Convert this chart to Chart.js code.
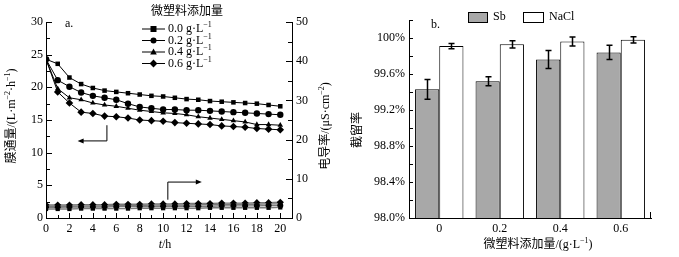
<!DOCTYPE html>
<html>
<head>
<meta charset="utf-8">
<script src="https://cdn.jsdelivr.net/npm/chart.js@4.4.0/dist/chart.umd.min.js"></script>
<style>
html, body { margin: 0; padding: 0; background: #fff; }
#wrap { position: relative; width: 679px; height: 257px; }
#fluxChart { position: absolute; left: 0; top: 0; }
#rejChart { position: absolute; left: 340px; top: 0; }
</style>
</head>
<body>
<div id="wrap">
  <canvas id="fluxChart" width="340" height="257"></canvas>
  <canvas id="rejChart" width="339" height="257"></canvas>
</div>
<script>
// --- data ---
const hours = [0, 1, 2, 3, 4, 5, 6, 7, 8, 9, 10, 11, 12, 13, 14, 15, 16, 17, 18, 19, 20];

// membrane flux, L/(m2*h)
const flux00 = [24.3, 23.6, 21.5, 20.5, 19.9, 19.5, 19.3, 19.1, 18.9, 18.7, 18.6, 18.4, 18.2, 18.1, 17.9, 17.8, 17.7, 17.6, 17.5, 17.3, 17.1];
const flux02 = [24.3, 21.1, 20.1, 19.2, 18.7, 18.4, 18.1, 17.5, 17.0, 16.8, 16.6, 16.6, 16.5, 16.5, 16.4, 16.3, 16.2, 16.1, 16.0, 15.9, 15.8];
const flux04 = [24.3, 19.8, 18.4, 18.1, 17.6, 17.3, 17.1, 16.8, 16.5, 16.3, 16.1, 16.0, 15.8, 15.5, 15.3, 15.1, 14.9, 14.7, 14.3, 14.3, 14.2];
const flux06 = [24.3, 19.3, 17.6, 16.2, 16.0, 15.6, 15.5, 15.3, 15.0, 14.9, 14.8, 14.6, 14.5, 14.4, 14.3, 14.1, 14.0, 13.9, 13.7, 13.6, 13.5];

// conductivity, uS/cm
const cond00 = [2.3, 2.3, 2.3, 2.4, 2.4, 2.4, 2.4, 2.4, 2.5, 2.5, 2.5, 2.5, 2.5, 2.5, 2.6, 2.6, 2.6, 2.6, 2.6, 2.6, 2.7];
const cond02 = [2.7, 2.7, 2.8, 2.8, 2.8, 2.8, 2.9, 2.9, 2.9, 2.9, 3.0, 3.0, 3.0, 3.0, 3.0, 3.1, 3.1, 3.1, 3.1, 3.2, 3.2];
const cond04 = [3.0, 3.0, 3.0, 3.1, 3.1, 3.1, 3.2, 3.2, 3.2, 3.3, 3.3, 3.3, 3.3, 3.4, 3.4, 3.4, 3.5, 3.5, 3.5, 3.6, 3.6];
const cond06 = [3.3, 3.3, 3.3, 3.4, 3.4, 3.4, 3.5, 3.5, 3.5, 3.6, 3.6, 3.6, 3.7, 3.7, 3.7, 3.8, 3.8, 3.8, 3.9, 3.9, 4.0];

const doseNames = ['0.0', '0.2', '0.4', '0.6'];
const markerStyles = ['rect', 'circle', 'triangle', 'rectRot'];

// rejection rate, %
const doseLabels = ['0', '0.2', '0.4', '0.6'];
const sbRejection = [99.43, 99.52, 99.76, 99.84];
const sbError = [0.11, 0.05, 0.10, 0.08];
const naclRejection = [99.91, 99.93, 99.96, 99.98];
const naclError = [0.03, 0.04, 0.05, 0.035];

const SERIF = '"Liberation Serif", "Noto Sans CJK SC", serif';

function fontFor(kind) {
    if (kind === 's') return '8px ' + SERIF;
    if (kind === 'i') return 'italic 12px ' + SERIF;
    return '12px ' + SERIF;
}

// draw text made of parts [text, kind], centred at x,y
function drawRich(ctx, parts, x, y, rot, align) {
    ctx.save();
    ctx.translate(x, y);
    ctx.rotate(rot || 0);
    let total = 0;
    const widths = parts.map(p => {
        ctx.font = fontFor(p[1]);
        const w = ctx.measureText(p[0]).width;
        total += w;
        return w;
    });
    let cx = align === 'left' ? 0 : -total / 2;
    ctx.textBaseline = 'middle';
    ctx.textAlign = 'left';
    ctx.fillStyle = '#000';
    parts.forEach((p, i) => {
        ctx.font = fontFor(p[1]);
        ctx.fillText(p[0], cx, p[1] === 's' ? -4 : 0);
        cx += widths[i];
    });
    ctx.restore();
}

function drawMarker(ctx, style, x, y, r) {
    ctx.beginPath();
    if (style === 'rect') {
        ctx.rect(x - r, y - r, 2 * r, 2 * r);
    } else if (style === 'circle') {
        ctx.arc(x, y, r, 0, Math.PI * 2);
    } else if (style === 'triangle') {
        ctx.moveTo(x, y - r * 1.2);
        ctx.lineTo(x + r * 1.1, y + r * 0.8);
        ctx.lineTo(x - r * 1.1, y + r * 0.8);
        ctx.closePath();
    } else {
        ctx.moveTo(x, y - r * 1.3);
        ctx.lineTo(x + r * 1.3, y);
        ctx.lineTo(x, y + r * 1.3);
        ctx.lineTo(x - r * 1.3, y);
        ctx.closePath();
    }
    ctx.fill();
}

function arrowHead(ctx, x, y, dir) {
    ctx.beginPath();
    ctx.moveTo(x, y);
    ctx.lineTo(x - dir * 6, y - 2.5);
    ctx.lineTo(x - dir * 6, y + 2.5);
    ctx.closePath();
    ctx.fill();
}

// inward tick marks
function drawTicks(ctx, scale, side, isMajor, majorLen, minorLen) {
    ctx.save();
    ctx.strokeStyle = '#000';
    ctx.lineWidth = 1;
    scale.ticks.forEach(t => {
        const len = isMajor(t.value) ? majorLen : minorLen;
        const p = Math.round(scale.getPixelForValue(t.value)) + 0.5;
        ctx.beginPath();
        if (side === 'bottom') {
            ctx.moveTo(p, scale.top);
            ctx.lineTo(p, scale.top - len);
        } else if (side === 'left') {
            ctx.moveTo(scale.right, p);
            ctx.lineTo(scale.right + len, p);
        } else {
            ctx.moveTo(scale.left, p);
            ctx.lineTo(scale.left - len, p);
        }
        ctx.stroke();
    });
    ctx.restore();
}

const fluxDecor = {
    id: 'fluxDecor',
    afterDraw(chart) {
        const ctx = chart.ctx;
        const xs = chart.scales.x, ys = chart.scales.y, y1 = chart.scales.y1;
        drawTicks(ctx, xs, 'bottom', v => v % 2 === 0, 5, 3);
        drawTicks(ctx, ys, 'left', v => v % 5 === 0, 6, 4);
        drawTicks(ctx, y1, 'right', v => v % 10 === 0, 6, 4);

        // axis titles
        drawRich(ctx, [['膜通量/(L·m', ''], ['−2', 's'], ['·h', ''], ['−1', 's'], [')', '']], 12, 116, -Math.PI / 2);
        drawRich(ctx, [['电导率/(μS·cm', ''], ['−2', 's'], [')', '']], 326, 126, -Math.PI / 2);
        drawRich(ctx, [['t', 'i'], ['/h', '']], 165, 245, 0);
        drawRich(ctx, [['a.', '']], 65, 24, 0, 'left');

        // legend
        drawRich(ctx, [['微塑料添加量', '']], 187, 12, 0);
        ctx.save();
        ctx.fillStyle = '#000';
        ctx.strokeStyle = '#000';
        ctx.lineWidth = 1;
        doseNames.forEach((name, i) => {
            const ly = 29 + i * 11.5;
            ctx.beginPath();
            ctx.moveTo(142, ly);
            ctx.lineTo(165, ly);
            ctx.stroke();
            drawMarker(ctx, markerStyles[i], 153.5, ly, 3);
            drawRich(ctx, [[name + ' g·L', ''], ['−1', 's']], 168, ly, 0, 'left');
        });

        // arrows pointing at the axes
        ctx.lineWidth = 1;
        const ax = xs.getPixelForValue(5.2), ay0 = ys.getPixelForValue(14.2), ay1 = ys.getPixelForValue(11.8);
        const ax2 = xs.getPixelForValue(2.7);
        ctx.beginPath();
        ctx.moveTo(ax, ay0);
        ctx.lineTo(ax, ay1);
        ctx.lineTo(ax2 + 4, ay1);
        ctx.stroke();
        arrowHead(ctx, ax2, ay1, -1);

        const bx = xs.getPixelForValue(10.4), by0 = ys.getPixelForValue(2.8), by1 = ys.getPixelForValue(5.5);
        const bx2 = xs.getPixelForValue(13.3);
        ctx.beginPath();
        ctx.moveTo(bx, by0);
        ctx.lineTo(bx, by1);
        ctx.lineTo(bx2 - 4, by1);
        ctx.stroke();
        arrowHead(ctx, bx2, by1, 1);
        ctx.restore();
    }
};

function fluxSet(data, i) {
    return {
        data: data,
        yAxisID: 'y',
        borderColor: '#000',
        backgroundColor: '#000',
        borderWidth: 1,
        pointStyle: markerStyles[i],
        pointRadius: i === 3 ? 3.8 : 3.2,
        pointBorderWidth: 0,
        tension: 0
    };
}

function condSet(data, i) {
    return {
        data: data,
        yAxisID: 'y1',
        borderColor: '#7a7a7a',
        backgroundColor: '#000',
        borderWidth: 1.4,
        pointStyle: markerStyles[i],
        pointRadius: i === 3 ? 3.6 : 3.0,
        pointBorderWidth: 0,
        tension: 0
    };
}

const tickFont = { family: SERIF, size: 12 };

new Chart(document.getElementById('fluxChart').getContext('2d'), {
    type: 'line',
    data: {
        labels: hours,
        datasets: [
            condSet(cond00, 0), condSet(cond02, 1), condSet(cond04, 2), condSet(cond06, 3),
            fluxSet(flux00, 0), fluxSet(flux02, 1), fluxSet(flux04, 2), fluxSet(flux06, 3)
        ]
    },
    options: {
        responsive: false,
        animation: false,
        layout: { padding: { top: 22, left: 0, right: 0, bottom: 0 } },
        plugins: { legend: { display: false }, tooltip: { enabled: false } },
        scales: {
            x: {
                type: 'linear',
                min: 0, max: 21,
                grid: { display: false, drawTicks: false },
                border: { display: true, color: '#000', width: 1 },
                ticks: {
                    stepSize: 1, autoSkip: false, maxRotation: 0, padding: 4,
                    color: '#000', font: tickFont,
                    callback: v => (v % 2 === 0 && v <= 20) ? v : ''
                },
                afterFit: s => { s.height = 39; }
            },
            y: {
                position: 'left',
                min: 0, max: 30,
                grid: { display: false, drawTicks: false },
                border: { display: true, color: '#000', width: 1 },
                ticks: {
                    stepSize: 2.5, autoSkip: false, padding: 3,
                    color: '#000', font: tickFont,
                    callback: v => v % 5 === 0 ? v : ''
                },
                afterFit: s => { s.width = 46; }
            },
            y1: {
                position: 'right',
                min: 0, max: 50,
                grid: { display: false, drawTicks: false },
                border: { display: true, color: '#000', width: 1 },
                ticks: {
                    stepSize: 5, autoSkip: false, padding: 4,
                    color: '#000', font: tickFont,
                    callback: v => v % 10 === 0 ? v : ''
                },
                afterFit: s => { s.width = 48; }
            }
        }
    },
    plugins: [fluxDecor]
});

// ---------- b. rejection ----------
const rejDecor = {
    id: 'rejDecor',
    afterDatasetsDraw(chart) {
        const ctx = chart.ctx;
        const ys = chart.scales.y;
        const errs = [sbError, naclError];
        const vals = [sbRejection, naclRejection];
        ctx.save();
        ctx.strokeStyle = '#000';
        ctx.lineWidth = 1.5;
        [0, 1].forEach(d => {
            chart.getDatasetMeta(d).data.forEach((bar, i) => {
                const top = ys.getPixelForValue(vals[d][i] + errs[d][i]);
                const bot = ys.getPixelForValue(vals[d][i] - errs[d][i]);
                const x = Math.round(bar.x) + 0.5;
                ctx.beginPath();
                ctx.moveTo(x, top); ctx.lineTo(x, bot);
                ctx.moveTo(x - 3, top); ctx.lineTo(x + 3, top);
                ctx.moveTo(x - 3, bot); ctx.lineTo(x + 3, bot);
                ctx.stroke();
            });
        });
        ctx.restore();
    },
    afterDraw(chart) {
        const ctx = chart.ctx;
        const xs = chart.scales.x, ys = chart.scales.y;
        drawTicks(ctx, ys, 'left', v => true, 4, 4);
        ctx.save();
        ctx.strokeStyle = '#000';
        ctx.lineWidth = 1;
        ctx.beginPath();
        ctx.moveTo(Math.round(xs.right) - 0.5, xs.top);
        ctx.lineTo(Math.round(xs.right) - 0.5, xs.top - 6);
        ctx.stroke();

        // legend
        ctx.fillStyle = '#a8a8a8';
        ctx.fillRect(128, 12, 19, 10);
        ctx.strokeRect(128.5, 12.5, 19, 10);
        ctx.fillStyle = '#fff';
        ctx.fillRect(183, 12, 20, 10);
        ctx.strokeRect(183.5, 12.5, 20, 10);
        ctx.restore();
        drawRich(ctx, [['Sb', '']], 153, 17, 0, 'left');
        drawRich(ctx, [['NaCl', '']], 209, 17, 0, 'left');

        drawRich(ctx, [['b.', '']], 91, 25, 0, 'left');
        drawRich(ctx, [['截留率', '']], 18, 130, -Math.PI / 2);
        drawRich(ctx, [['微塑料添加量/(g·L', ''], ['−1', 's'], [')', '']], 198, 245, 0);
    }
};

new Chart(document.getElementById('rejChart').getContext('2d'), {
    type: 'bar',
    data: {
        labels: doseLabels,
        datasets: [
            {
                label: 'Sb',
                data: sbRejection,
                backgroundColor: '#a8a8a8',
                borderColor: '#000',
                borderWidth: 1,
                categoryPercentage: 0.8,
                barPercentage: 1.0
            },
            {
                label: 'NaCl',
                data: naclRejection,
                backgroundColor: '#fff',
                borderColor: '#000',
                borderWidth: 1,
                categoryPercentage: 0.8,
                barPercentage: 1.0
            }
        ]
    },
    options: {
        responsive: false,
        animation: false,
        layout: { padding: { top: 20, left: 0, right: 28, bottom: 0 } },
        plugins: { legend: { display: false }, tooltip: { enabled: false } },
        scales: {
            x: {
                grid: { display: false, drawTicks: false },
                border: { display: true, color: '#000', width: 1 },
                ticks: { color: '#000', font: tickFont, padding: 4, maxRotation: 0 },
                afterFit: s => { s.height = 39; }
            },
            y: {
                min: 98, max: 100.2,
                grid: { display: false, drawTicks: false },
                border: { display: true, color: '#000', width: 1 },
                ticks: {
                    stepSize: 0.2, autoSkip: false, padding: 4,
                    color: '#000', font: tickFont,
                    callback: v => {
                        const k = Math.round(v * 10);
                        if (k % 4 !== 0) return '';
                        return k === 1000 ? '100%' : (k / 10).toFixed(1) + '%';
                    }
                },
                afterFit: s => { s.width = 69; }
            }
        }
    },
    plugins: [rejDecor]
});
</script>
</body>
</html>
